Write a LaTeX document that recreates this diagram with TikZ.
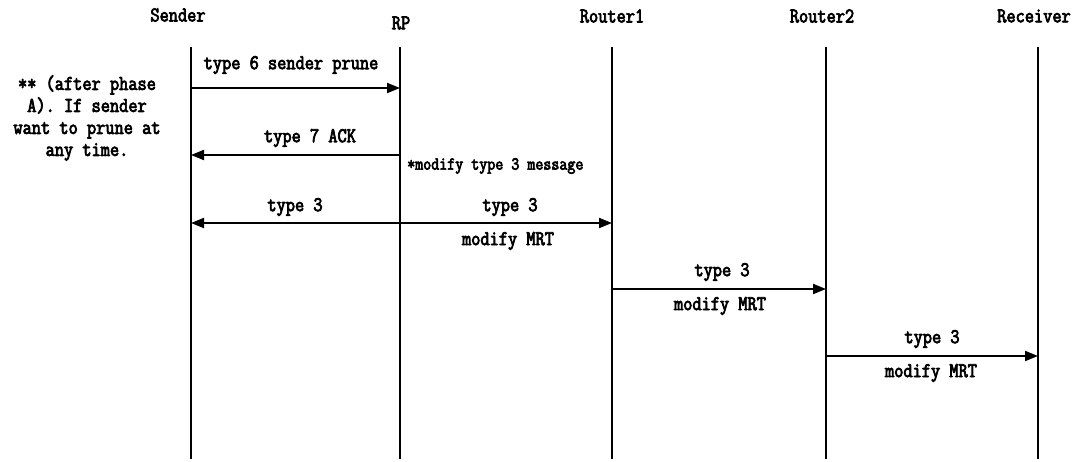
\documentclass[tikz,border=0pt]{standalone}
\usepackage{fontspec}
\usetikzlibrary{arrows.meta}
\newfontfamily\diagfont{Latin Modern Mono}[FakeStretch=0.85, FakeBold=3.5]
\newcommand\lblfont{\diagfont\fontsize{21}{22}\selectfont}
\newcommand\smallfont{\diagfont\fontsize{18.3}{19}\selectfont}
\tikzset{
  lifeline/.style={line width=1.6pt},
  msg/.style={line width=2pt, -{Triangle[length=13pt,width=10pt]}},
  dmsg/.style={line width=2pt, {Triangle[length=13pt,width=10pt]}-{Triangle[length=13pt,width=10pt]}},
  lbl/.style={font=\lblfont, inner sep=0pt},
  note/.style={font=\smallfont, inner sep=0pt}
}
\begin{document}
\begin{tikzpicture}[x=1pt,y=-1pt]
\useasboundingbox (0,0) rectangle (1081,461);

% participant headers
\node[lbl] (hS) at (178,15) {Sender};
\node[lbl] (hR) at (401,23) {RP};
\node[lbl] (h1) at (612,16) {Router1};
\node[lbl] (h2) at (822,16) {Router2};
\node[lbl] (h3) at (1034,16) {Receiver};

% lifelines
\coordinate (S0) at (191,47);  \coordinate (S9) at (191,459);
\coordinate (R0) at (400,47);  \coordinate (R9) at (400,459);
\coordinate (A0) at (612,47);  \coordinate (A9) at (612,459);
\coordinate (B0) at (826,47);  \coordinate (B9) at (826,459);
\coordinate (C0) at (1038,47); \coordinate (C9) at (1038,459);
\foreach \p in {S,R,A,B,C} \draw[lifeline] (\p0) -- (\p9);

% message end points
\coordinate (m1s) at (191,88);  \coordinate (m1e) at (400,88);
\coordinate (m2s) at (400,155); \coordinate (m2e) at (191,155);
\coordinate (m3s) at (191,223); \coordinate (m3e) at (612,223);
\coordinate (m4s) at (612,289); \coordinate (m4e) at (826,289);
\coordinate (m5s) at (826,356); \coordinate (m5e) at (1038,356);

% messages
\draw[msg] (m1s) -- (m1e);
\draw[msg] (m2s) -- (m2e);
\draw[dmsg] (m3s) -- (m3e);
\draw[msg] (m4s) -- (m4e);
\draw[msg] (m5s) -- (m5e);

% message labels
\node[lbl] (l1) at (291,65) {type 6 sender prune};
\node[lbl] (l2) at (310,138) {type 7 ACK};
\node[note, anchor=west] (l2b) at (407,166) {*modify type 3 message};
\node[lbl] (l3a) at (295,207) {type 3};
\node[lbl] (l3b) at (510,207) {type 3};
\node[lbl] (l3c) at (508,241) {modify MRT};
\node[lbl] (l4a) at (722,272) {type 3};
\node[lbl] (l4b) at (720,306) {modify MRT};
\node[lbl] (l5a) at (932,339) {type 3};
\node[lbl] (l5b) at (931,373) {modify MRT};

% side remark
\node[lbl, align=center] (rem) at (87,118)
  {** (after phase\\A). If sender\\want to prune at\\any time.};
\end{tikzpicture}
\end{document}
